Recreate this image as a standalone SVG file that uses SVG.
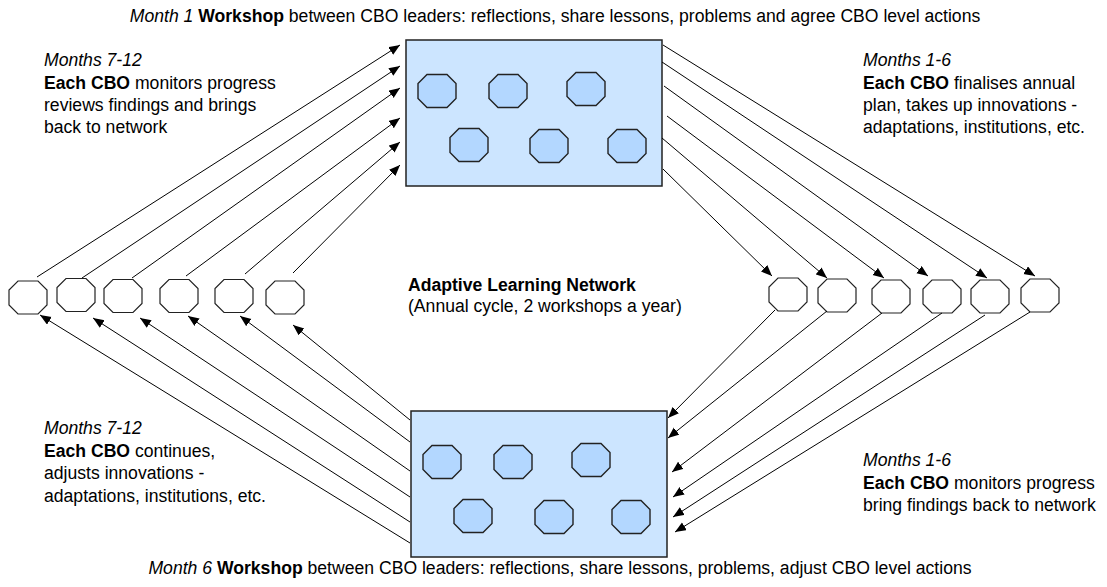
<svg xmlns="http://www.w3.org/2000/svg" xmlns:xlink="http://www.w3.org/1999/xlink" width="1107" height="587" viewBox="0 0 1107 587">
<style>
text{font-family:"Liberation Sans",Arial,sans-serif;font-size:17.6px;fill:#000}
.i{font-style:italic}
.b{font-weight:bold}
.box{fill:#cce5ff;stroke:#222;stroke-width:1.5}
.in{fill:#b3d7ff;stroke:#222;stroke-width:1.4}
.cbo{fill:#fff;stroke:#222;stroke-width:1.2}
.conn line{stroke:#000;stroke-width:1;marker-end:url(#ah)}
</style>
<defs>
<polygon id="oct" points="-10,-16.5 10,-16.5 19,-7.5 19,7.5 10,16.5 -10,16.5 -19,7.5 -19,-7.5"/>
<marker id="ah" markerUnits="userSpaceOnUse" markerWidth="12" markerHeight="10" refX="11" refY="4.5" orient="auto">
<path d="M0,0 L11,4.5 L0,9 z" fill="#000"/>
</marker>
</defs>
<rect width="1107" height="587" fill="#fff"/>

<g id="workshop-month1">
<rect class="box" x="406" y="40" width="256" height="146"/>
<use href="#oct" class="in" x="437" y="91"/>
<use href="#oct" class="in" x="508" y="91"/>
<use href="#oct" class="in" x="586" y="89"/>
<use href="#oct" class="in" x="469" y="145"/>
<use href="#oct" class="in" x="549" y="146"/>
<use href="#oct" class="in" x="627" y="146"/>
</g>

<g id="workshop-month6">
<rect class="box" x="411" y="411" width="256" height="146"/>
<use href="#oct" class="in" x="442" y="462"/>
<use href="#oct" class="in" x="513" y="462"/>
<use href="#oct" class="in" x="591" y="460"/>
<use href="#oct" class="in" x="473" y="516"/>
<use href="#oct" class="in" x="554" y="517"/>
<use href="#oct" class="in" x="631" y="517"/>
</g>

<g id="cbo-left-1"><use href="#oct" class="cbo" x="28" y="297.5"/></g>
<g id="cbo-left-2"><use href="#oct" class="cbo" x="76" y="295"/></g>
<g id="cbo-left-3"><use href="#oct" class="cbo" x="123" y="296"/></g>
<g id="cbo-left-4"><use href="#oct" class="cbo" x="179" y="296"/></g>
<g id="cbo-left-5"><use href="#oct" class="cbo" x="234" y="296"/></g>
<g id="cbo-left-6"><use href="#oct" class="cbo" x="285" y="297.5"/></g>

<g id="cbo-right-1"><use href="#oct" class="cbo" x="788" y="294.5"/></g>
<g id="cbo-right-2"><use href="#oct" class="cbo" x="837" y="295.5"/></g>
<g id="cbo-right-3"><use href="#oct" class="cbo" x="891" y="296.5"/></g>
<g id="cbo-right-4"><use href="#oct" class="cbo" x="942" y="296.5"/></g>
<g id="cbo-right-5"><use href="#oct" class="cbo" x="990" y="296.5"/></g>
<g id="cbo-right-6"><use href="#oct" class="cbo" x="1040" y="295.5"/></g>

<g id="connectors" class="conn">
<line x1="37" y1="277" x2="400" y2="45"/>
<line x1="82" y1="278" x2="400" y2="66"/>
<line x1="132" y1="278" x2="400" y2="88"/>
<line x1="186" y1="276" x2="400" y2="118"/>
<line x1="245" y1="274" x2="400" y2="142"/>
<line x1="293" y1="273" x2="400" y2="165"/>

<line x1="663" y1="45" x2="1035" y2="276"/>
<line x1="662" y1="62" x2="987" y2="278"/>
<line x1="664" y1="86" x2="928" y2="276"/>
<line x1="667" y1="116" x2="884" y2="278"/>
<line x1="662" y1="138" x2="827" y2="278"/>
<line x1="663" y1="169" x2="772" y2="276"/>

<line x1="410" y1="420" x2="293" y2="325"/>
<line x1="410" y1="442" x2="240" y2="316"/>
<line x1="410" y1="471" x2="188" y2="316"/>
<line x1="410" y1="497" x2="140" y2="318"/>
<line x1="410" y1="522" x2="93" y2="318"/>
<line x1="410" y1="543" x2="40" y2="315"/>

<line x1="775" y1="310" x2="668" y2="418"/>
<line x1="827" y1="311" x2="668" y2="438"/>
<line x1="882" y1="313" x2="672" y2="472"/>
<line x1="942" y1="313" x2="673" y2="497"/>
<line x1="985" y1="315" x2="673" y2="517"/>
<line x1="1030" y1="312" x2="675" y2="532"/>
</g>

<g id="labels">
<text x="555" y="22" text-anchor="middle"><tspan class="i">Month 1</tspan> <tspan class="b">Workshop</tspan> between CBO leaders: reflections, share lessons, problems and agree CBO level actions</text>
<text x="560" y="574" text-anchor="middle"><tspan class="i">Month 6</tspan> <tspan class="b">Workshop</tspan> between CBO leaders: reflections, share lessons, problems, adjust CBO level actions</text>

<text x="44" y="66" class="i">Months 7-12</text>
<text x="44" y="89"><tspan class="b">Each CBO</tspan> monitors progress</text>
<text x="44" y="111">reviews findings and brings</text>
<text x="44" y="133">back to network</text>

<text x="863" y="66" class="i">Months 1-6</text>
<text x="863" y="89"><tspan class="b">Each CBO</tspan> finalises annual</text>
<text x="863" y="111">plan, takes up innovations -</text>
<text x="863" y="133">adaptations, institutions, etc.</text>

<text x="408" y="291" class="b">Adaptive Learning Network</text>
<text x="408" y="312">(Annual cycle, 2 workshops a year)</text>

<text x="44" y="434" class="i">Months 7-12</text>
<text x="44" y="456.5"><tspan class="b">Each CBO</tspan> continues,</text>
<text x="44" y="479">adjusts innovations -</text>
<text x="44" y="501.5">adaptations, institutions, etc.</text>

<text x="863" y="466" class="i">Months 1-6</text>
<text x="863" y="488.5"><tspan class="b">Each CBO</tspan> monitors progress</text>
<text x="863" y="511">bring findings back to network</text>
</g>
</svg>
